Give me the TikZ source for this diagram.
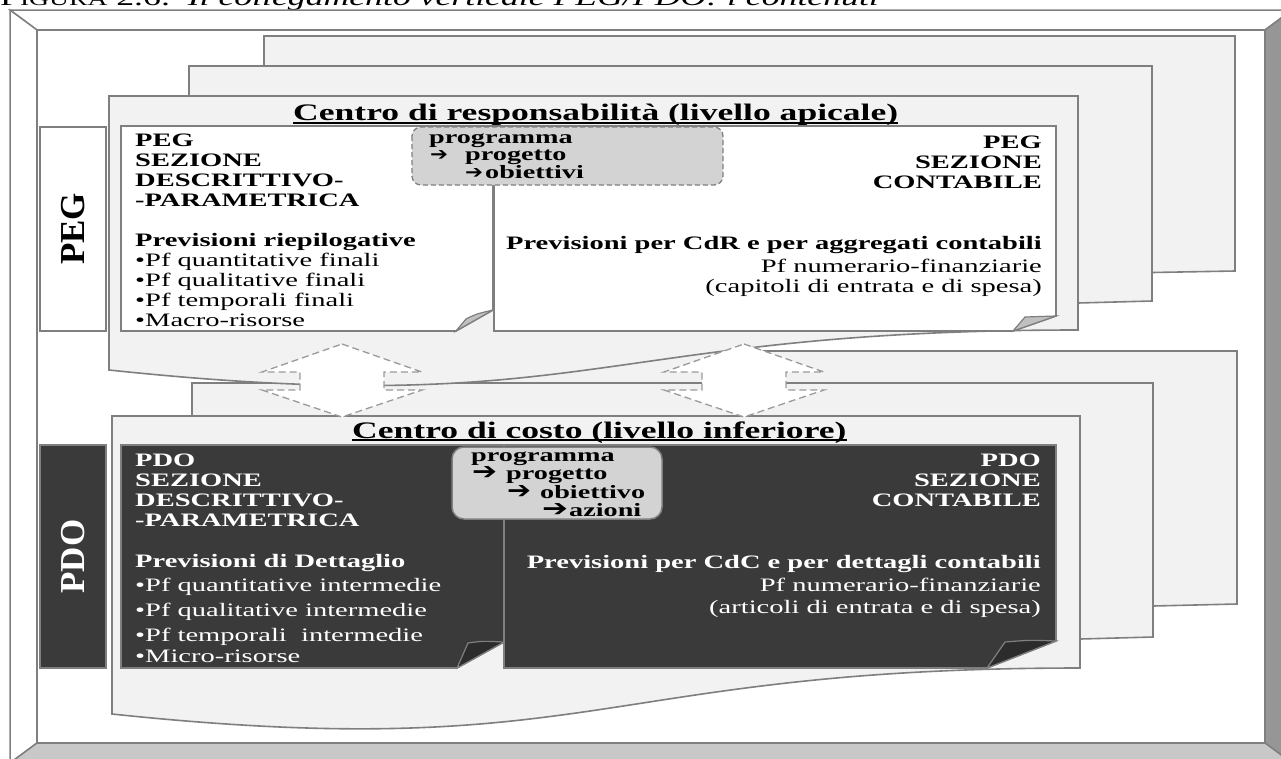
\documentclass[tikz,border=0pt]{standalone}
\usepackage{fontspec}
\usepackage{graphicx}
\setmainfont{Liberation Serif}[FakeStretch=1.5]
\newfontfamily\plainserif{Liberation Serif}
\newfontfamily\arrowfont{DejaVu Sans}

\definecolor{edge}{HTML}{7F7F7F}
\definecolor{pagefill}{HTML}{F2F2F2}
\definecolor{darkface}{HTML}{3A3A3A}
\definecolor{darkfold}{HTML}{2C2C2C}
\definecolor{calloutfill}{HTML}{D3D3D3}
\definecolor{foldfill}{HTML}{C0C0C0}
\definecolor{bevelright}{HTML}{969696}
\definecolor{bevelbottom}{HTML}{C8C8C8}
\definecolor{dashgray}{HTML}{9A9A9A}

% font sizes (1 unit = 1pt)
\newcommand{\bodyfont}{\fontsize{19}{20}\selectfont}
\newcommand{\titlefont}{\fontsize{23.7}{26}\selectfont\bfseries}
\newcommand{\callfont}{\fontsize{18.8}{17.4}\selectfont\bfseries}
\newcommand{\labelfont}{\plainserif\bfseries\fontsize{35}{35}\selectfont}
% heavy arrow glyph used inside the callouts: #1 width, #2 height
\newcommand{\harr}[2]{\resizebox{#1}{#2}{\arrowfont ➔}}

\tikzset{
  bevel/.style={draw=edge, line width=1.5pt, line join=miter},
  pagesheet/.style={draw=edge, fill=pagefill, line width=1.6pt, line join=miter},
  whitedoc/.style={draw=edge, fill=white, line width=1.6pt, line join=miter},
  docdark/.style={draw=edge, fill=darkface, line width=1.6pt, line join=miter},
  foldlight/.style={draw=edge, fill=foldfill, line width=1.2pt},
  folddark/.style={draw=edge, fill=darkfold, line width=1.2pt},
  calloutdash/.style={draw=edge, fill=calloutfill, line width=1.3pt, dash pattern=on 5pt off 3pt, rounded corners=9pt},
  calloutsolid/.style={draw=edge, fill=calloutfill, line width=1.5pt, rounded corners=12pt},
  updown/.style={draw=dashgray, fill=white, line width=1.3pt, dash pattern=on 7pt off 4pt, line join=miter},
  sidelabel/.style={line width=1.6pt, draw=edge, inner sep=0pt, rotate=90, font=\labelfont},
  txt/.style={inner sep=0pt, font=\bodyfont},
  calltxt/.style={inner sep=0pt, font=\callfont},
  ttl/.style={inner sep=0pt, font=\titlefont},
  uline/.style={line width=1.8pt, black}
}

\begin{document}
\begin{tikzpicture}[x=1pt,y=-1pt]
\useasboundingbox (0,0) rectangle (1281,758);
\begin{scope}
\clip (0,0) rectangle (1281,758);

% caption above the frame
\node[inner sep=0pt, anchor=base west, font=\fontsize{23.8}{26}\selectfont] (caption) at (0,5.5)
  {F{\fontsize{18.4}{20}\selectfont IGURA} 2.6.\ \ \textit{Il collegamento verticale PEG/PDO: i contenuti}};

% bevelled outer frame
\path[bevel, fill=white] (10,10) -- (1292,10) -- (1265,30) -- (37,30) -- cycle;
\path[bevel, fill=white] (10,10) -- (37,30) -- (37,743) -- (10,763) -- cycle;
\path[bevel, fill=bevelright] (1292,10) -- (1292,763) -- (1265,743) -- (1265,30) -- cycle;
\path[bevel, fill=bevelbottom] (10,763) -- (1292,763) -- (1265,743) -- (37,743) -- cycle;
\path[bevel, fill=white] (37,30) rectangle (1265,743);

% ---------- PDO stack of sheets ----------
\path[pagesheet] (267,351) -- (1237,351) -- (1237,604) -- (1153,606) -- (267,606) -- cycle;
\path[pagesheet] (192,383) -- (1153,383) -- (1153,637) -- (1080,639) -- (192,639) -- cycle;
\path[pagesheet] (112,416) -- (1080,416) -- (1080,668)
   .. controls (596,668) and (596,765) .. (112,714) -- cycle;

% ---------- PEG stack of sheets ----------
\path[pagesheet] (264,36) -- (1235,36) -- (1235,271) -- (1152,272.5) -- (264,272.5) -- cycle;
\path[pagesheet] (189,66) -- (1152,66) -- (1152,301) -- (1078,303) -- (189,303) -- cycle;
\path[pagesheet] (109,96) -- (1078,96) -- (1078,330)
   .. controls (593,330) and (593,421) .. (109,370) -- cycle;

% ---------- PEG contents ----------
\node[sidelabel, fill=white, minimum width=204pt, minimum height=66pt] (peglabel) at (73,229) {PEG};

\path[whitedoc] (121,126) -- (493,126) -- (493,310) -- (456,331) -- (121,331) -- cycle;
\path[foldlight] (456,331) -- (466,319) .. controls (476,314) .. (493,310) -- cycle;
\path[whitedoc] (494,126) -- (1056,126) -- (1056,316) -- (1013,331) -- (494,331) -- cycle;
\path[foldlight] (1013,331) -- (1025,317) .. controls (1040,317) .. (1056,316) -- cycle;
\path[calloutdash] (412,127) rectangle (723,185);

\node[txt, anchor=base west] (pegdesc) at (135,146.7) {\begin{tabular}[t]{@{}l@{}}
  \textbf{PEG}\\ \textbf{SEZIONE}\\ \textbf{DESCRITTIVO-}\\ \textbf{-PARAMETRICA}\\ \\
  \textbf{Previsioni riepilogative}\\ •Pf quantitative finali\\ •Pf qualitative finali\\
  •Pf temporali finali\\ •Macro-risorse\end{tabular}};
\node[txt, anchor=base east] (pegcont) at (1042,148) {\begin{tabular}[t]{@{}r@{}}
  \textbf{PEG}\\ \textbf{SEZIONE}\\ \textbf{CONTABILE}\end{tabular}};
\node[txt, anchor=base east] (pegprev) at (1042,249.3) {\begin{tabular}[t]{@{}r@{}}
  \textbf{Previsioni per CdR e per aggregati contabili}\\[3.4pt] Pf numerario-finanziarie\\
  (capitoli di entrata e di spesa)\end{tabular}};
\node[calltxt, anchor=base west] (pegcall) at (429,143) {\begin{tabular}[t]{@{}l@{}}
  programma\\ \hspace*{1pt}\harr{18pt}{10pt}\hspace{17pt}progetto\\
  \hspace*{36pt}\harr{18pt}{10pt}\hspace{2pt}obiettivi\end{tabular}};

\node[ttl, anchor=base west] (pegtitle) at (293,120.7) {Centro di responsabilità (livello apicale)};
\draw[uline] ([yshift=-2pt]pegtitle.base west) -- ([yshift=-2pt]pegtitle.base east);

% ---------- PDO contents ----------
\node[sidelabel, fill=darkface, text=white, minimum width=223pt, minimum height=66pt] (pdolabel) at (73,556.5) {PDO};

\path[docdark] (121,445) -- (504,445) -- (504,642) -- (457,668) -- (121,668) -- cycle;
\path[folddark] (457,668) -- (468,643) .. controls (482,641) .. (504,642) -- cycle;
\path[docdark] (504,445) -- (1056,445) -- (1056,641) -- (987,668) -- (504,668) -- cycle;
\path[folddark] (987,668) -- (1005,642) .. controls (1030,640) .. (1056,641) -- cycle;
\path[calloutsolid] (452,447) rectangle (662,519);

\node[txt, text=white, anchor=base west] (pdodesc) at (135,466.7) {\begin{tabular}[t]{@{}l@{}}
  \textbf{PDO}\\ \textbf{SEZIONE}\\ \textbf{DESCRITTIVO-}\\ \textbf{-PARAMETRICA}\end{tabular}};
\node[txt, text=white, anchor=base west] (pdoprev) at (135,567.7) {\begin{tabular}[t]{@{}l@{}}
  \textbf{Previsioni di Dettaglio}\\[4pt] •Pf quantitative intermedie\\[5pt]
  •Pf qualitative intermedie\\[5pt] •Pf temporali\ \ intermedie\\[1pt] •Micro-risorse\end{tabular}};
\node[txt, text=white, anchor=base east] (pdocont) at (1041,466.7) {\begin{tabular}[t]{@{}r@{}}
  \textbf{PDO}\\ \textbf{SEZIONE}\\ \textbf{CONTABILE}\end{tabular}};
\node[txt, text=white, anchor=base east] (pdoacc) at (1041,568.3) {\begin{tabular}[t]{@{}r@{}}
  \textbf{Previsioni per CdC e per dettagli contabili}\\[3.4pt] Pf numerario-finanziarie\\[1.6pt]
  (articoli di entrata e di spesa)\end{tabular}};
\node[calltxt, anchor=base west] (pdocall) at (471,461.7) {\begin{tabular}[t]{@{}l@{}}
  programma\\ \hspace*{1pt}\harr{25pt}{13pt}\hspace{9pt}progetto\\
  \hspace*{36pt}\harr{24pt}{13pt}\hspace{9pt}obiettivo\\
  \hspace*{71pt}\harr{26pt}{13pt}\hspace{1pt}azioni\end{tabular}};

\node[ttl, anchor=base west] (pdotitle) at (352,438) {Centro di costo (livello inferiore)};
\draw[uline] ([yshift=-2pt]pdotitle.base west) -- ([yshift=-2pt]pdotitle.base east);

% ---------- vertical two-way links between the levels ----------
\path[updown] (342,344) -- (422,372) -- (384,372) -- (384,390) -- (422,390) -- (342,417)
   -- (262,390) -- (300,390) -- (300,372) -- (262,372) -- cycle;
\path[updown] (744,344) -- (824,372) -- (786,372) -- (786,390) -- (824,390) -- (744,417)
   -- (664,390) -- (702,390) -- (702,372) -- (664,372) -- cycle;
\end{scope}
\end{tikzpicture}
\end{document}
